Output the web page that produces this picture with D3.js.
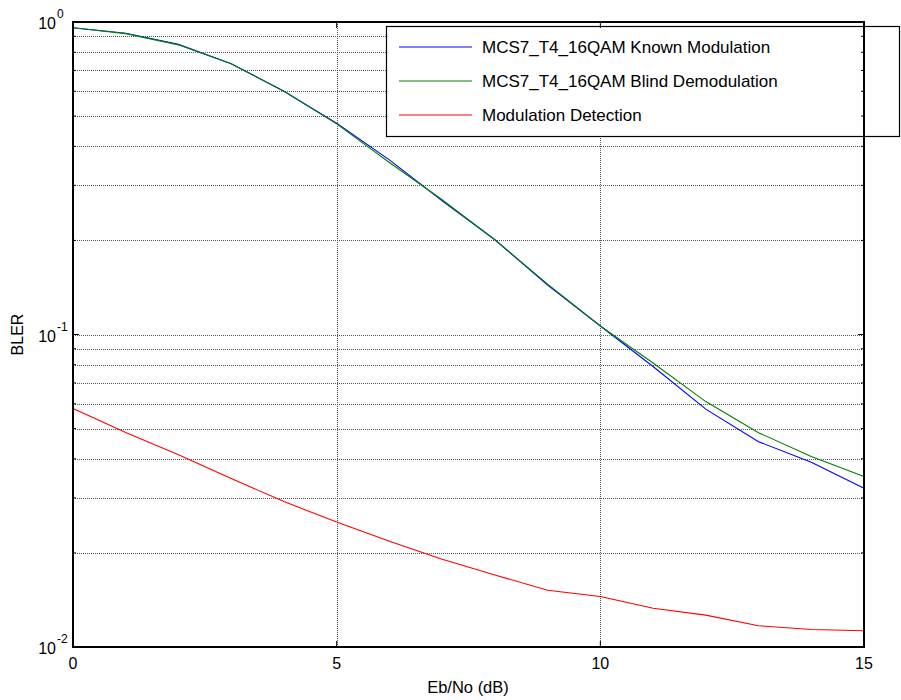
<!DOCTYPE html>
<html><head><meta charset="utf-8">
<script src="https://cdn.jsdelivr.net/npm/d3@7"></script>
<style>body{margin:0;background:#fff}svg{display:block;font-family:"Liberation Sans",Arial,sans-serif}</style>
</head><body><svg id="c" width="901" height="700"></svg>
<script>
const ebno = [0,1,2,3,4,5,6,7,8,9,10,11,12,13,14,15];
const knownMod = [0.959,0.920,0.848,0.735,0.600,0.474,0.362,0.268,0.201,0.144,0.1065,0.0790,0.0577,0.0454,0.0390,0.0322];
const blindDemod = [0.959,0.918,0.845,0.735,0.600,0.472,0.355,0.270,0.201,0.145,0.1065,0.0811,0.0610,0.0485,0.0407,0.0351];
const modDetect = [0.0580,0.0486,0.0412,0.0346,0.0292,0.0251,0.0218,0.0191,0.0170,0.0152,0.0145,0.0133,0.01265,0.0117,0.01138,0.01127];
const seriesNames = ["MCS7_T4_16QAM Known Modulation","MCS7_T4_16QAM Blind Demodulation","Modulation Detection"];
const seriesColors = ["#0000ff","#008000","#ff0000"];
const xTicks = [0,5,10,15];
const yMajor = [1,0.1,0.01];
const yExp = ["0","-1","-2"];

const svg = d3.select("#c");
const L=73,R=864,T=22,B=647;
const x = d3.scaleLinear().domain([0,15]).range([L,R]);
const y = d3.scaleLog().domain([0.01,1]).range([B,T]);

const yMinor = [];
[0.01,0.1].forEach(d=>{for(let k=2;k<=9;k++) yMinor.push(d*k);});

const grid = svg.append("g").attr("stroke","#555").attr("stroke-dasharray","1,1").attr("stroke-width",1);
yMajor.concat(yMinor).forEach(v=>{
  grid.append("line").attr("x1",L).attr("x2",R).attr("y1",Math.round(y(v))+0.5).attr("y2",Math.round(y(v))+0.5);
});
xTicks.forEach(v=>{
  grid.append("line").attr("x1",Math.round(x(v))+0.5).attr("x2",Math.round(x(v))+0.5).attr("y1",T).attr("y2",B);
});

const line = d3.line().x((d,i)=>x(ebno[i])).y(d=>y(d));
[knownMod,blindDemod,modDetect].forEach((s,i)=>{
  svg.append("path").datum(s).attr("d",line).attr("fill","none").attr("stroke",seriesColors[i]).attr("stroke-width",1.1);
});

// Legend
const lg = svg.append("g");
lg.append("rect").attr("x",386.5).attr("y",26.5).attr("width",513).attr("height",110).attr("fill","#fff").attr("stroke","#000").attr("stroke-width",1.2);
seriesNames.forEach((n,i)=>{
  const yy = 47 + i*34;
  lg.append("line").attr("x1",399).attr("x2",472).attr("y1",yy).attr("y2",yy).attr("stroke",seriesColors[i]).attr("stroke-width",1.2);
  lg.append("text").attr("x",482).attr("y",yy+6).attr("font-size",17).attr("fill","#000").text(n);
});

// Axes box and ticks
const ax = svg.append("g").attr("stroke","#000");
ax.append("rect").attr("x",L).attr("y",T).attr("width",R-L).attr("height",B-T).attr("fill","none").attr("stroke-width",2);
const tl=6, tm=3;
yMajor.forEach(v=>{
  const yy=y(v);
  ax.append("line").attr("x1",L).attr("x2",L+tl).attr("y1",yy).attr("y2",yy);
  ax.append("line").attr("x1",R).attr("x2",R-tl).attr("y1",yy).attr("y2",yy);
});
yMinor.forEach(v=>{
  const yy=y(v);
  ax.append("line").attr("x1",L).attr("x2",L+tm).attr("y1",yy).attr("y2",yy);
  ax.append("line").attr("x1",R).attr("x2",R-tm).attr("y1",yy).attr("y2",yy);
});
xTicks.forEach(v=>{
  const xx=x(v);
  ax.append("line").attr("x1",xx).attr("x2",xx).attr("y1",B).attr("y2",B-tl);
  ax.append("line").attr("x1",xx).attr("x2",xx).attr("y1",T).attr("y2",T+tl);
});

// tick labels
const tg = svg.append("g").attr("fill","#000").attr("font-size",16);
xTicks.forEach(v=>{
  tg.append("text").attr("x",x(v)).attr("y",669).attr("text-anchor","middle").text(v);
});
yMajor.forEach((v,i)=>{
  tg.append("text").attr("x",56).attr("y",y(v)+7).attr("text-anchor","end").text("10");
  tg.append("text").attr("x",57).attr("y",y(v)-4).attr("font-size",12).text(yExp[i]);
});
svg.append("text").attr("x",468).attr("y",693).attr("text-anchor","middle").attr("font-size",16.5).text("Eb/No (dB)");
svg.append("text").attr("transform","translate(23,"+((T+B)/2)+") rotate(-90)").attr("text-anchor","middle").attr("font-size",16).text("BLER");
</script></body></html>
